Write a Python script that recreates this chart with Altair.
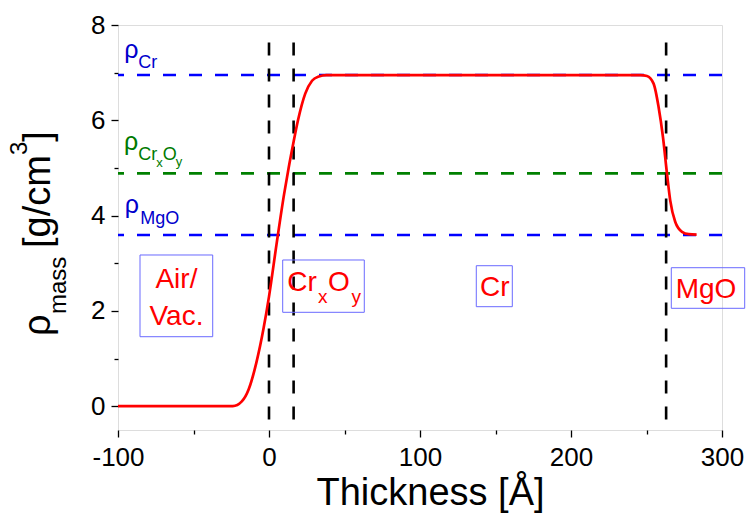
import altair as alt
import pandas as pd

FONT = "Liberation Sans"

# ---- data -------------------------------------------------------------
thickness = [-100, -30, -24, -18, -13.5, -8.4, -3.5, 0, 5, 10, 13, 16.3, 19.2, 24, 28.5,
             33, 38, 100, 200, 246, 250.3, 254.7, 258, 260.9, 263.6, 265.7, 269, 273.5,
             278, 283.2]
density = [0, 0, 0.0, 0.10, 0.35, 0.91, 1.65, 2.3, 3.4, 4.45, 5.0, 5.55, 6.0, 6.56, 6.83,
           6.92, 6.95, 6.95, 6.95, 6.95, 6.93, 6.77, 6.28, 5.65, 4.87, 4.32, 3.87, 3.66,
           3.61, 3.60]

ref_names = ["Cr", "CrxOy", "MgO"]
ref_values = [6.95, 4.887, 3.593]
ref_colors = ["#0000ff", "#008000", "#0000ff"]

interfaces = [0, 16.3, 263]
iface_bottom = -0.28
iface_top = 7.78

x_domain = [-100, 300]
y_domain = [-0.5, 8]
x_ticks = [-100, -50, 0, 50, 100, 150, 200, 250, 300]
y_ticks = [0, 1, 2, 3, 4, 5, 6, 7, 8]

# reference-density labels (rho + subscripts), data coordinates
rho_text = ["ρ", "Cr", "ρ", "Cr", "x", "O", "y", "ρ", "MgO"]
rho_x = [-95.8, -86.6, -96.0, -86.6, -74.6, -70.3, -61.8, -95.5, -85.2]
rho_y = [7.31, 7.10, 5.38, 5.17, 5.02, 5.17, 5.04, 4.05, 3.82]
rho_size = [25, 18, 25, 18, 13, 18, 13, 25, 18]
rho_color = ["#0000cc", "#0000cc", "#007a00", "#007a00", "#007a00", "#007a00", "#007a00",
             "#0000cc", "#0000cc"]

# layer labels in boxes
layer_text = ["Cr", "x", "O", "y", "Cr", "MgO"]
layer_x = [12.1, 32.4, 39.1, 54.6, 139.7, 269.3]
layer_y = [2.417, 2.159, 2.417, 2.159, 2.319, 2.264]
layer_size = [28, 19, 28, 19, 28, 28]
air_text = ["Air/", "Vac."]
air_x = [-61.3, -61.3]
air_y = [2.474, 1.704]

box_x = [-85.43, 9.07, 137.28, 266.42]
box_x2 = [-37.28, 63.11, 161.13, 315.03]
box_y = [3.173, 3.068, 2.948, 2.906]
box_y2 = [1.458, 1.970, 2.088, 2.054]

# ---- encodings ---------------------------------------------------------
x_axis = alt.Axis(
    values=x_ticks, title=None, grid=False, domain=False,
    labelExpr="datum.value % 100 === 0 ? '' + datum.value : ''",
    tickSize={"condition": {"test": "datum.value % 100 === 0", "value": 7}, "value": 4},
    tickColor="black", tickWidth=1.3, labelColor="black", labelFont=FONT,
    labelFontSize=26, labelPadding=7, labelFlush=False, labelOverlap=False,
    labelBound=False)
y_axis = alt.Axis(
    values=y_ticks, title=None, grid=False, domain=False,
    labelExpr="datum.value % 2 === 0 ? '' + datum.value : ''",
    tickSize={"condition": {"test": "datum.value % 2 === 0", "value": 7}, "value": 4},
    tickColor="black", tickWidth=1.3, labelColor="black", labelFont=FONT,
    labelFontSize=26, labelPadding=6, labelFlush=False, labelOverlap=False,
    labelBound=False)

X = alt.X("x:Q", scale=alt.Scale(domain=x_domain, nice=False, zero=False), axis=x_axis)
Y = alt.Y("y:Q", scale=alt.Scale(domain=y_domain, nice=False, zero=False), axis=y_axis)

curve_df = pd.DataFrame({"x": thickness, "y": density})
ref_df = pd.DataFrame({"name": ref_names, "y": ref_values, "c": ref_colors})
iface_df = pd.DataFrame({"x": interfaces, "y": [iface_bottom] * 3, "y2": [iface_top] * 3})
rho_df = pd.DataFrame({"x": rho_x, "y": rho_y, "t": rho_text, "s": rho_size, "c": rho_color})
lay_df = pd.DataFrame({"x": layer_x, "y": layer_y, "t": layer_text, "s": layer_size})
air_df = pd.DataFrame({"x": air_x, "y": air_y, "t": air_text})
box_df = pd.DataFrame({"x": box_x, "x2": box_x2, "y": box_y, "y2": box_y2})

hlines = alt.Chart(ref_df).mark_rule(strokeWidth=2.6, strokeDash=[13, 13]).encode(
    y=Y, color=alt.Color("c:N", scale=None))
vlines = alt.Chart(iface_df).mark_rule(strokeWidth=2.6, strokeDash=[13, 13], color="black").encode(
    x=X, y=Y, y2="y2:Q")
curve = alt.Chart(curve_df).mark_line(color="#ff0000", strokeWidth=2.7,
                                      interpolate="monotone").encode(x=X, y=Y)
boxes = alt.Chart(box_df).mark_rect(fillOpacity=0, stroke="#6a6aff", strokeWidth=1).encode(
    x=X, x2="x2:Q", y=Y, y2="y2:Q")
rho = alt.Chart(rho_df).mark_text(align="left", baseline="alphabetic", font=FONT).encode(
    x=X, y=Y, text="t:N", size=alt.Size("s:Q", scale=None), color=alt.Color("c:N", scale=None))
lay = alt.Chart(lay_df).mark_text(align="left", baseline="alphabetic", font=FONT,
                                  color="#ff0000").encode(
    x=X, y=Y, text="t:N", size=alt.Size("s:Q", scale=None))
air = alt.Chart(air_df).mark_text(align="center", baseline="alphabetic", font=FONT,
                                  color="#ff0000", fontSize=28).encode(x=X, y=Y, text="t:N")

# axis titles (pixel positions relative to the plot area)
one = pd.DataFrame({"k": [0]})


def label(txt, px, py, size, angle=0, align="left"):
    return alt.Chart(one).mark_text(text=txt, font=FONT, fontSize=size, angle=angle,
                                    align=align, baseline="alphabetic", color="black").encode(
        x=alt.value(px), y=alt.value(py))


ytitle = [
    label("ρ", -68, 311, 38, 270),
    label("mass", -52, 289, 24, 270),
    label("[g/cm", -68, 223, 38, 270),
    label("3", -91, 130, 24, 270),
    label("]", -68, 116.7, 38, 270),
]
xtitle = label("Thickness [Å]", 312.5, 480, 38, 0, "center")

chart = alt.layer(hlines, vlines, curve, boxes, rho, lay, air, xtitle, *ytitle).properties(
    width=604, height=405,
    autosize=alt.AutoSizeParams(type="none"),
    padding={"left": 118, "top": 25, "right": 26, "bottom": 85},
).configure_view(stroke="black", strokeWidth=1.3).configure(background="white")

chart.save("out.html", embed_options={"renderer": "svg", "actions": False})
